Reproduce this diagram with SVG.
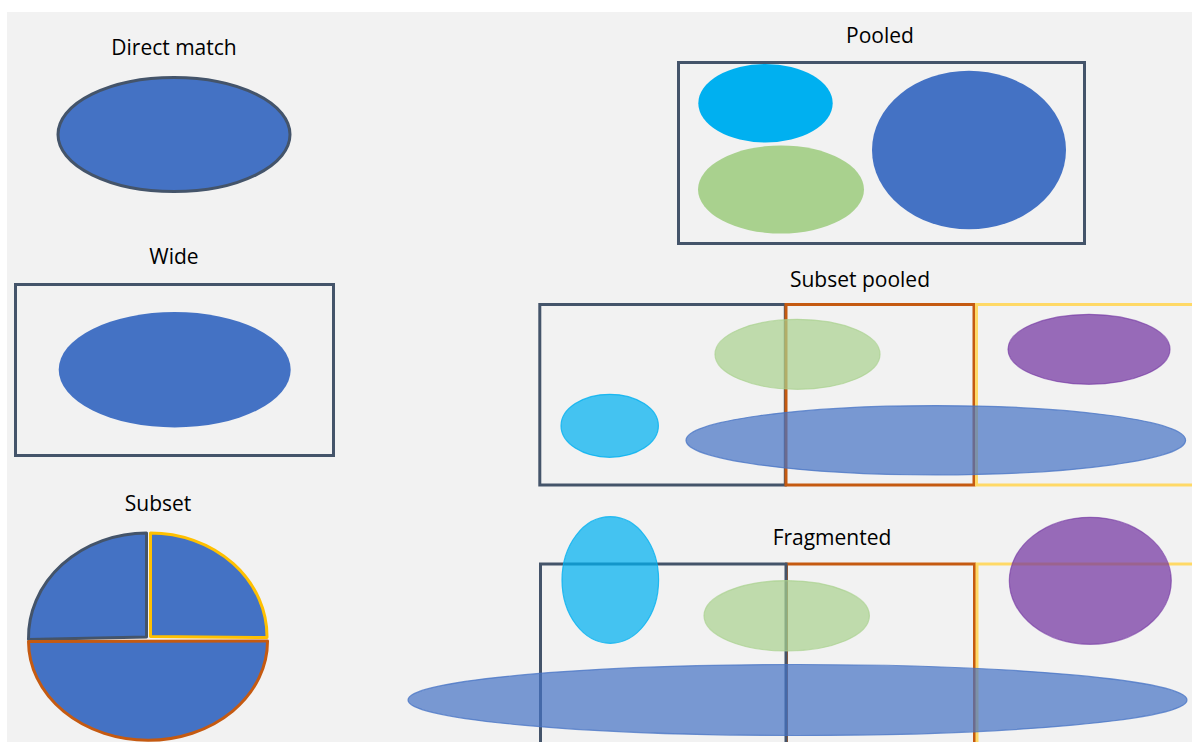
<svg xmlns="http://www.w3.org/2000/svg" width="1192" height="742" viewBox="0 0 1192 742">
  <style>
    .label { font-family: "Open Sans", "Liberation Sans", sans-serif; font-size: 21px; fill: #000; text-anchor: middle; }
    .frame { fill: none; stroke: #44546a; stroke-width: 3; }
    .frame-orange { fill: none; stroke: #c55a11; stroke-width: 3; }
    .frame-yellow { fill: none; stroke: #ffd966; stroke-width: 3; }
    .solid-blue { fill: #4472c4; }
    .solid-cyan { fill: #00b0f0; }
    .solid-green { fill: #a9d18e; }
    .soft-blue { fill: #4472c4; fill-opacity: 0.7; stroke: #4472c4; stroke-opacity: 0.75; stroke-width: 1.2; }
    .soft-cyan { fill: #00b0f0; fill-opacity: 0.72; stroke: #00b0f0; stroke-opacity: 0.8; stroke-width: 1.2; }
    .soft-green { fill: #a9d18e; fill-opacity: 0.7; stroke: #a9d18e; stroke-opacity: 0.7; stroke-width: 1.2; }
    .soft-purple { fill: #7030a0; fill-opacity: 0.7; stroke: #7030a0; stroke-opacity: 0.6; stroke-width: 1.2; }
    .slice { fill: #4472c4; stroke-width: 3; stroke-linejoin: round; }
  </style>

  <!-- page -->
  <rect x="0" y="0" width="1192" height="742" fill="#ffffff"/>
  <rect x="7" y="12" width="1185" height="730" fill="#f2f2f2"/>

  <!-- Direct match -->
  <g id="direct-match">
    <text class="label" x="174" y="55">Direct match</text>
    <ellipse cx="174" cy="134.5" rx="116" ry="57" fill="#4472c4" stroke="#44546a" stroke-width="3"/>
  </g>

  <!-- Wide -->
  <g id="wide">
    <text class="label" x="174" y="264">Wide</text>
    <rect class="frame" x="15.5" y="284.5" width="318" height="171"/>
    <ellipse class="solid-blue" cx="174.7" cy="369.7" rx="116" ry="57.7"/>
  </g>

  <!-- Subset: exploded pie -->
  <g id="subset">
    <text class="label" x="158" y="511">Subset</text>
    <path class="slice" stroke="#44546a" d="M146.5,637 L146.5,533 A118.5,104.5 0 0 0 28.5,639.5 Z"/>
    <path class="slice" stroke="#ffc000" d="M150.5,636.5 L150.5,533 A116.5,103.5 0 0 1 267,637.5 Z"/>
    <path class="slice" stroke="#c55a11" d="M28.5,641.5 L267.5,641 A119.5,99 0 0 1 28.5,641.5 Z"/>
  </g>

  <!-- Pooled -->
  <g id="pooled">
    <text class="label" x="880" y="43">Pooled</text>
    <rect class="frame" x="678.5" y="62.5" width="406" height="181"/>
    <ellipse class="solid-cyan" cx="765.5" cy="103.3" rx="67.2" ry="39.3"/>
    <ellipse class="solid-green" cx="781" cy="189.5" rx="83" ry="44"/>
    <ellipse class="solid-blue" cx="969" cy="150" rx="97" ry="79.3"/>
  </g>

  <!-- Subset pooled -->
  <g id="subset-pooled">
    <text class="label" x="860" y="287">Subset pooled</text>
    <rect class="frame" x="539.8" y="304.5" width="245.5" height="180.5"/>
    <rect class="frame-orange" x="786" y="304.5" width="188" height="180.5"/>
    <rect class="frame-yellow" x="976.5" y="304.5" width="230" height="180.5"/>
    <ellipse class="soft-green" cx="797.5" cy="354.3" rx="82.5" ry="35"/>
    <ellipse class="soft-cyan" cx="609.7" cy="425.8" rx="48.7" ry="31.5"/>
    <ellipse class="soft-purple" cx="1089" cy="349.3" rx="81" ry="35"/>
    <ellipse class="soft-blue" cx="935.8" cy="440.3" rx="249.8" ry="34.7"/>
  </g>

  <!-- Fragmented -->
  <g id="fragmented">
    <text class="label" x="832" y="545">Fragmented</text>
    <rect class="frame-orange" x="786.5" y="564" width="188" height="200"/>
    <rect class="frame" x="540.5" y="564" width="245.5" height="200"/>
    <rect class="frame-yellow" x="977" y="564" width="230" height="200"/>
    <ellipse class="soft-cyan" cx="610.3" cy="580" rx="48.3" ry="63.3"/>
    <ellipse class="soft-green" cx="786.7" cy="615.8" rx="82.7" ry="35.2"/>
    <ellipse class="soft-purple" cx="1090.3" cy="580.8" rx="81" ry="63.5"/>
    <ellipse class="soft-blue" cx="797.5" cy="700" rx="389.5" ry="35.5"/>
  </g>
</svg>
